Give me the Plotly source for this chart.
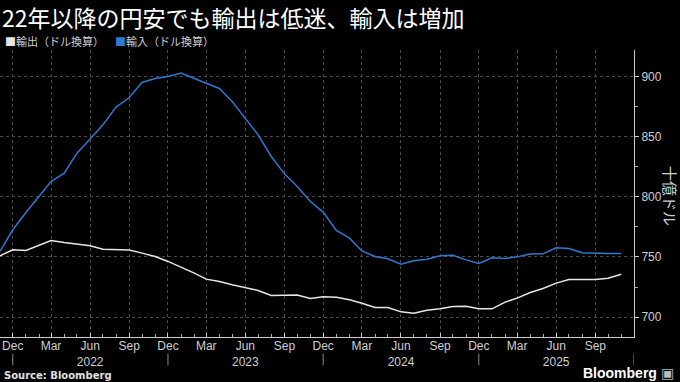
import pandas as pd
import plotly.graph_objects as go

# ---- data ----
months = pd.date_range("2021-11-01", periods=49, freq="MS")

exports = [751, 756, 755.4, 760.1, 763.7, 762, 760.7, 759.3, 756.5, 756, 755.7, 753.2,
           750.4, 746.3, 741.6, 736.6, 731.6, 729.6, 726.9, 724.7, 722.2, 718, 718.3,
           718.3, 715.5, 716.9, 716.6, 714.4, 711.6, 708, 708, 704.4, 703.3, 705.8,
           706.9, 708.9, 709.1, 706.9, 706.9, 712.5, 715.8, 720.5, 723.8, 728.3, 731.3,
           731, 731.3, 732.4, 735.7]

imports = [754.6, 772.6, 787, 800.3, 812.7, 819.7, 836.3, 848, 859.8, 874.5, 882.5, 895,
           898.3, 900, 902.8, 898.3, 894.5, 890, 879.2, 865.4, 851.5, 833.5, 819.1,
           808.6, 796.1, 787.3, 772, 765.6, 755, 750.4, 748.5, 744, 746.8, 748.2, 751,
           751.5, 747.6, 744.6, 749.3, 748.8, 750.1, 752.4, 752.6, 757.6, 757, 753.5,
           752.9, 752.9, 752.9]

tick_dates = pd.date_range("2021-12-01", "2025-09-01", freq="3MS")
tick_text = ["Dec", "Mar", "Jun<br>2022", "Sep",
             "Dec", "Mar", "Jun<br>2023", "Sep",
             "Dec", "Mar", "Jun<br>2024", "Sep",
             "Dec", "Mar", "Jun<br>2025", "Sep"]
year_separators = ["2021-12-01", "2022-12-01", "2023-12-01", "2024-12-01", "2025-12-01"]

y_ticks = [700, 750, 800, 850, 900]

title = "22年以降の円安でも輸出は低迷、輸入は増加"
name_exp = "輸出（ドル換算）"
name_imp = "輸入（ドル換算）"
y_title = "十億ドル"
source = "Source: Bloomberg"

BLUE = "#2d7ad0"
WHITE = "#e6e6e6"
GRID = "#4a4a4a"
TXT = "#cfcfcf"
JP = "Noto Sans CJK JP"

fig = go.Figure()
fig.add_trace(go.Scatter(x=months, y=imports, mode="lines", name=name_imp,
                         line=dict(color=BLUE, width=1.5)))
fig.add_trace(go.Scatter(x=months, y=exports, mode="lines", name=name_exp,
                         line=dict(color=WHITE, width=1.5)))

fig.update_layout(
    width=680, height=382,
    paper_bgcolor="#000000", plot_bgcolor="#000000",
    margin=dict(l=0, r=46, t=50, b=45),
    showlegend=False,
    font=dict(family="Liberation Sans, Arial, sans-serif", color=TXT, size=12),
    xaxis=dict(
        range=["2021-11-01", "2025-12-01"],
        tickvals=list(tick_dates), ticktext=tick_text,
        showgrid=True, gridcolor=GRID, griddash="dot", gridwidth=1,
        showline=True, linecolor="#cccccc", linewidth=1,
        ticks="inside", ticklen=4, tickcolor="#cccccc",
        minor=dict(dtick="M1", ticks="inside", ticklen=3, tickcolor="#aaaaaa", showgrid=False),
        tickfont=dict(size=12, color=TXT),
        ticklabelstandoff=-2,
        zeroline=False,
    ),
    yaxis=dict(
        side="right", range=[683.5, 922],
        tickvals=y_ticks,
        showgrid=True, gridcolor=GRID, griddash="dot", gridwidth=1,
        showline=True, linecolor="#cccccc", linewidth=1,
        ticks="outside", ticklen=4, tickcolor="#cccccc",
        minor=dict(dtick=25, ticks="outside", ticklen=3, tickcolor="#aaaaaa", showgrid=False),
        tickfont=dict(size=12, color=TXT),
        zeroline=False,
    ),
)

for d in year_separators:
    fig.add_shape(type="line", xref="x", yref="paper", x0=d, x1=d, y0=-0.058, y1=-0.098,
                  line=dict(color="#888888", width=1))

fig.add_annotation(text=title, x=0, y=(382 - 17 - 45) / 287, xref="paper", yref="paper",
                   xanchor="left", yanchor="middle",
                   font=dict(family=JP, size=23, color="#ffffff"), showarrow=False)

leg_y = (382 - 41 - 45) / 287
fig.add_annotation(text=f"<span style='color:{WHITE}'>■</span>{name_exp}", x=3 / 634, y=leg_y,
                   xref="paper", yref="paper", xanchor="left", yanchor="middle",
                   font=dict(family=JP, size=11, color=TXT), showarrow=False)
fig.add_annotation(text=f"<span style='color:{BLUE}'>■</span>{name_imp}", x=113 / 634, y=leg_y,
                   xref="paper", yref="paper", xanchor="left", yanchor="middle",
                   font=dict(family=JP, size=11, color=TXT), showarrow=False)

fig.add_annotation(text=y_title, x=671 / 634, y=(337 - 196) / 287, xref="paper", yref="paper",
                   xanchor="center", yanchor="middle", textangle=90,
                   font=dict(family=JP, size=15, color=TXT), showarrow=False)

fig.add_annotation(text=f"<b>{source}</b>", x=2 / 634, y=-(375 - 337) / 287, xref="paper",
                   yref="paper", xanchor="left", yanchor="middle",
                   font=dict(family="DejaVu Sans, sans-serif", size=10, color="#e0e0e0"),
                   showarrow=False)
fig.add_annotation(text="<b>Bloomberg</b> <span style='color:#bbbbbb'>▣</span>", x=676 / 634,
                   y=-(373 - 337) / 287, xref="paper", yref="paper", xanchor="right",
                   yanchor="middle",
                   font=dict(family="Liberation Sans, Arial, sans-serif", size=14, color="#ffffff"),
                   showarrow=False)

fig.write_html("out.html", config={"displayModeBar": False},
               post_script="document.body.style.margin='0';")
